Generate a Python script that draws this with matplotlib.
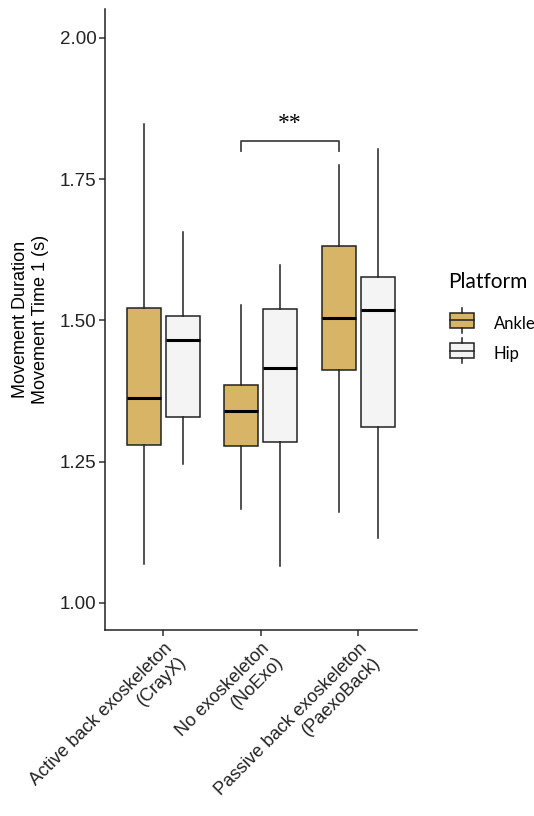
import matplotlib
matplotlib.use("Agg")
import matplotlib.pyplot as plt
from matplotlib.legend_handler import HandlerBase
from matplotlib.patches import Rectangle
from matplotlib.lines import Line2D

conditions = ["Active back exoskeleton\n(CrayX)", "No exoskeleton\n(NoExo)",
              "Passive back exoskeleton\n(PaexoBack)"]
platforms = ["Ankle", "Hip"]

# five-number summaries per condition: whisker low, q1, median, q3, whisker high
ankle_low = [1.068, 1.167, 1.161]
ankle_q1 = [1.280, 1.278, 1.412]
ankle_med = [1.362, 1.339, 1.505]
ankle_q3 = [1.522, 1.386, 1.631]
ankle_high = [1.847, 1.527, 1.775]

hip_low = [1.246, 1.066, 1.114]
hip_q1 = [1.329, 1.285, 1.312]
hip_med = [1.466, 1.415, 1.518]
hip_q3 = [1.507, 1.521, 1.577]
hip_high = [1.656, 1.598, 1.803]

ankle_col = "#D8B466"
hip_col = "#F4F4F4"

plt.rcParams["font.family"] = ["Liberation Sans", "DejaVu Sans"]

fig = plt.figure(figsize=(5.34, 8.16), dpi=100)
ax = fig.add_axes([0.1966, 0.2279, 0.5834, 0.7610])


def stats(low, q1, med, q3, high):
    return [dict(whislo=a, q1=b, med=c, q3=d, whishi=e, fliers=[])
            for a, b, c, d, e in zip(low, q1, med, q3, high)]


pos = [1, 2, 3]
common = dict(widths=0.35, showcaps=False, patch_artist=True,
              whiskerprops=dict(color="#222222", lw=1.1),
              medianprops=dict(color="black", lw=2.2))
b1 = ax.bxp(stats(ankle_low, ankle_q1, ankle_med, ankle_q3, ankle_high),
            positions=[p - 0.2 for p in pos],
            boxprops=dict(facecolor=ankle_col, edgecolor="#222222", lw=1.1),
            **common)
b2 = ax.bxp(stats(hip_low, hip_q1, hip_med, hip_q3, hip_high),
            positions=[p + 0.2 for p in pos],
            boxprops=dict(facecolor=hip_col, edgecolor="#222222", lw=1.1),
            **common)

# significance bracket between NoExo and PaexoBack (ankle)
ax.plot([1.8, 1.8, 2.8, 2.8], [1.799, 1.818, 1.818, 1.799], color="#444444", lw=1.3)
ax.text(2.3, 1.829, "**", ha="center", va="bottom", fontsize=17,
        family=["Liberation Serif", "DejaVu Serif"])

ax.set_xlim(0.4, 3.6)
ax.set_ylim(0.952, 2.051)
ax.set_yticks([1.00, 1.25, 1.50, 1.75, 2.00])
ax.set_yticklabels(["1.00", "1.25", "1.50", "1.75", "2.00"], fontsize=13.5, color="#222222")
ax.set_xticks(pos)
ax.set_xticklabels(conditions, rotation=45, ha="right", va="top",
                   rotation_mode="anchor", multialignment="right",
                   fontsize=13, color="#222222")
ax.tick_params(axis="both", length=4, width=1.1, color="#333333")
ax.tick_params(axis="y", pad=2)
ax.tick_params(axis="x", pad=3)
for s in ["top", "right"]:
    ax.spines[s].set_visible(False)
for s in ["left", "bottom"]:
    ax.spines[s].set_linewidth(1.1)
    ax.spines[s].set_color("#222222")
ax.set_ylabel("Movement Duration\nMovement Time 1 (s)", fontsize=13, labelpad=8)


class BoxKey(HandlerBase):
    def create_artists(self, legend, orig, xd, yd, w, h, fontsize, trans):
        fc = orig.get_facecolor()
        cx = xd + w / 2
        r = Rectangle((xd, yd), w, h, facecolor=fc, edgecolor="#222222",
                      lw=1.1, transform=trans)
        m = Line2D([xd, xd + w], [yd + h / 2] * 2, color="#222222", lw=1.1,
                   transform=trans)
        wt = Line2D([cx, cx], [yd + h, yd + h + 4], color="#222222", lw=1.1,
                    transform=trans)
        wb = Line2D([cx, cx], [yd, yd - 4], color="#222222", lw=1.1,
                    transform=trans)
        return [r, m, wt, wb]


handles = [Rectangle((0, 0), 1, 1, facecolor=ankle_col),
           Rectangle((0, 0), 1, 1, facecolor=hip_col)]
fig.text(448 / 534, 1 - 282 / 816, "Platform", ha="left", va="center",
         family="Lato", fontsize=15)
leg = fig.legend(handles, platforms, loc="upper left",
                 bbox_to_anchor=(0.815, 0.631), frameon=False,
                 handler_map={Rectangle: BoxKey()}, handlelength=1.4,
                 handleheight=0.95, labelspacing=0.85, handletextpad=1.2,
                 prop=dict(family="Lato", size=12))

fig.savefig("out.png", dpi=100)
